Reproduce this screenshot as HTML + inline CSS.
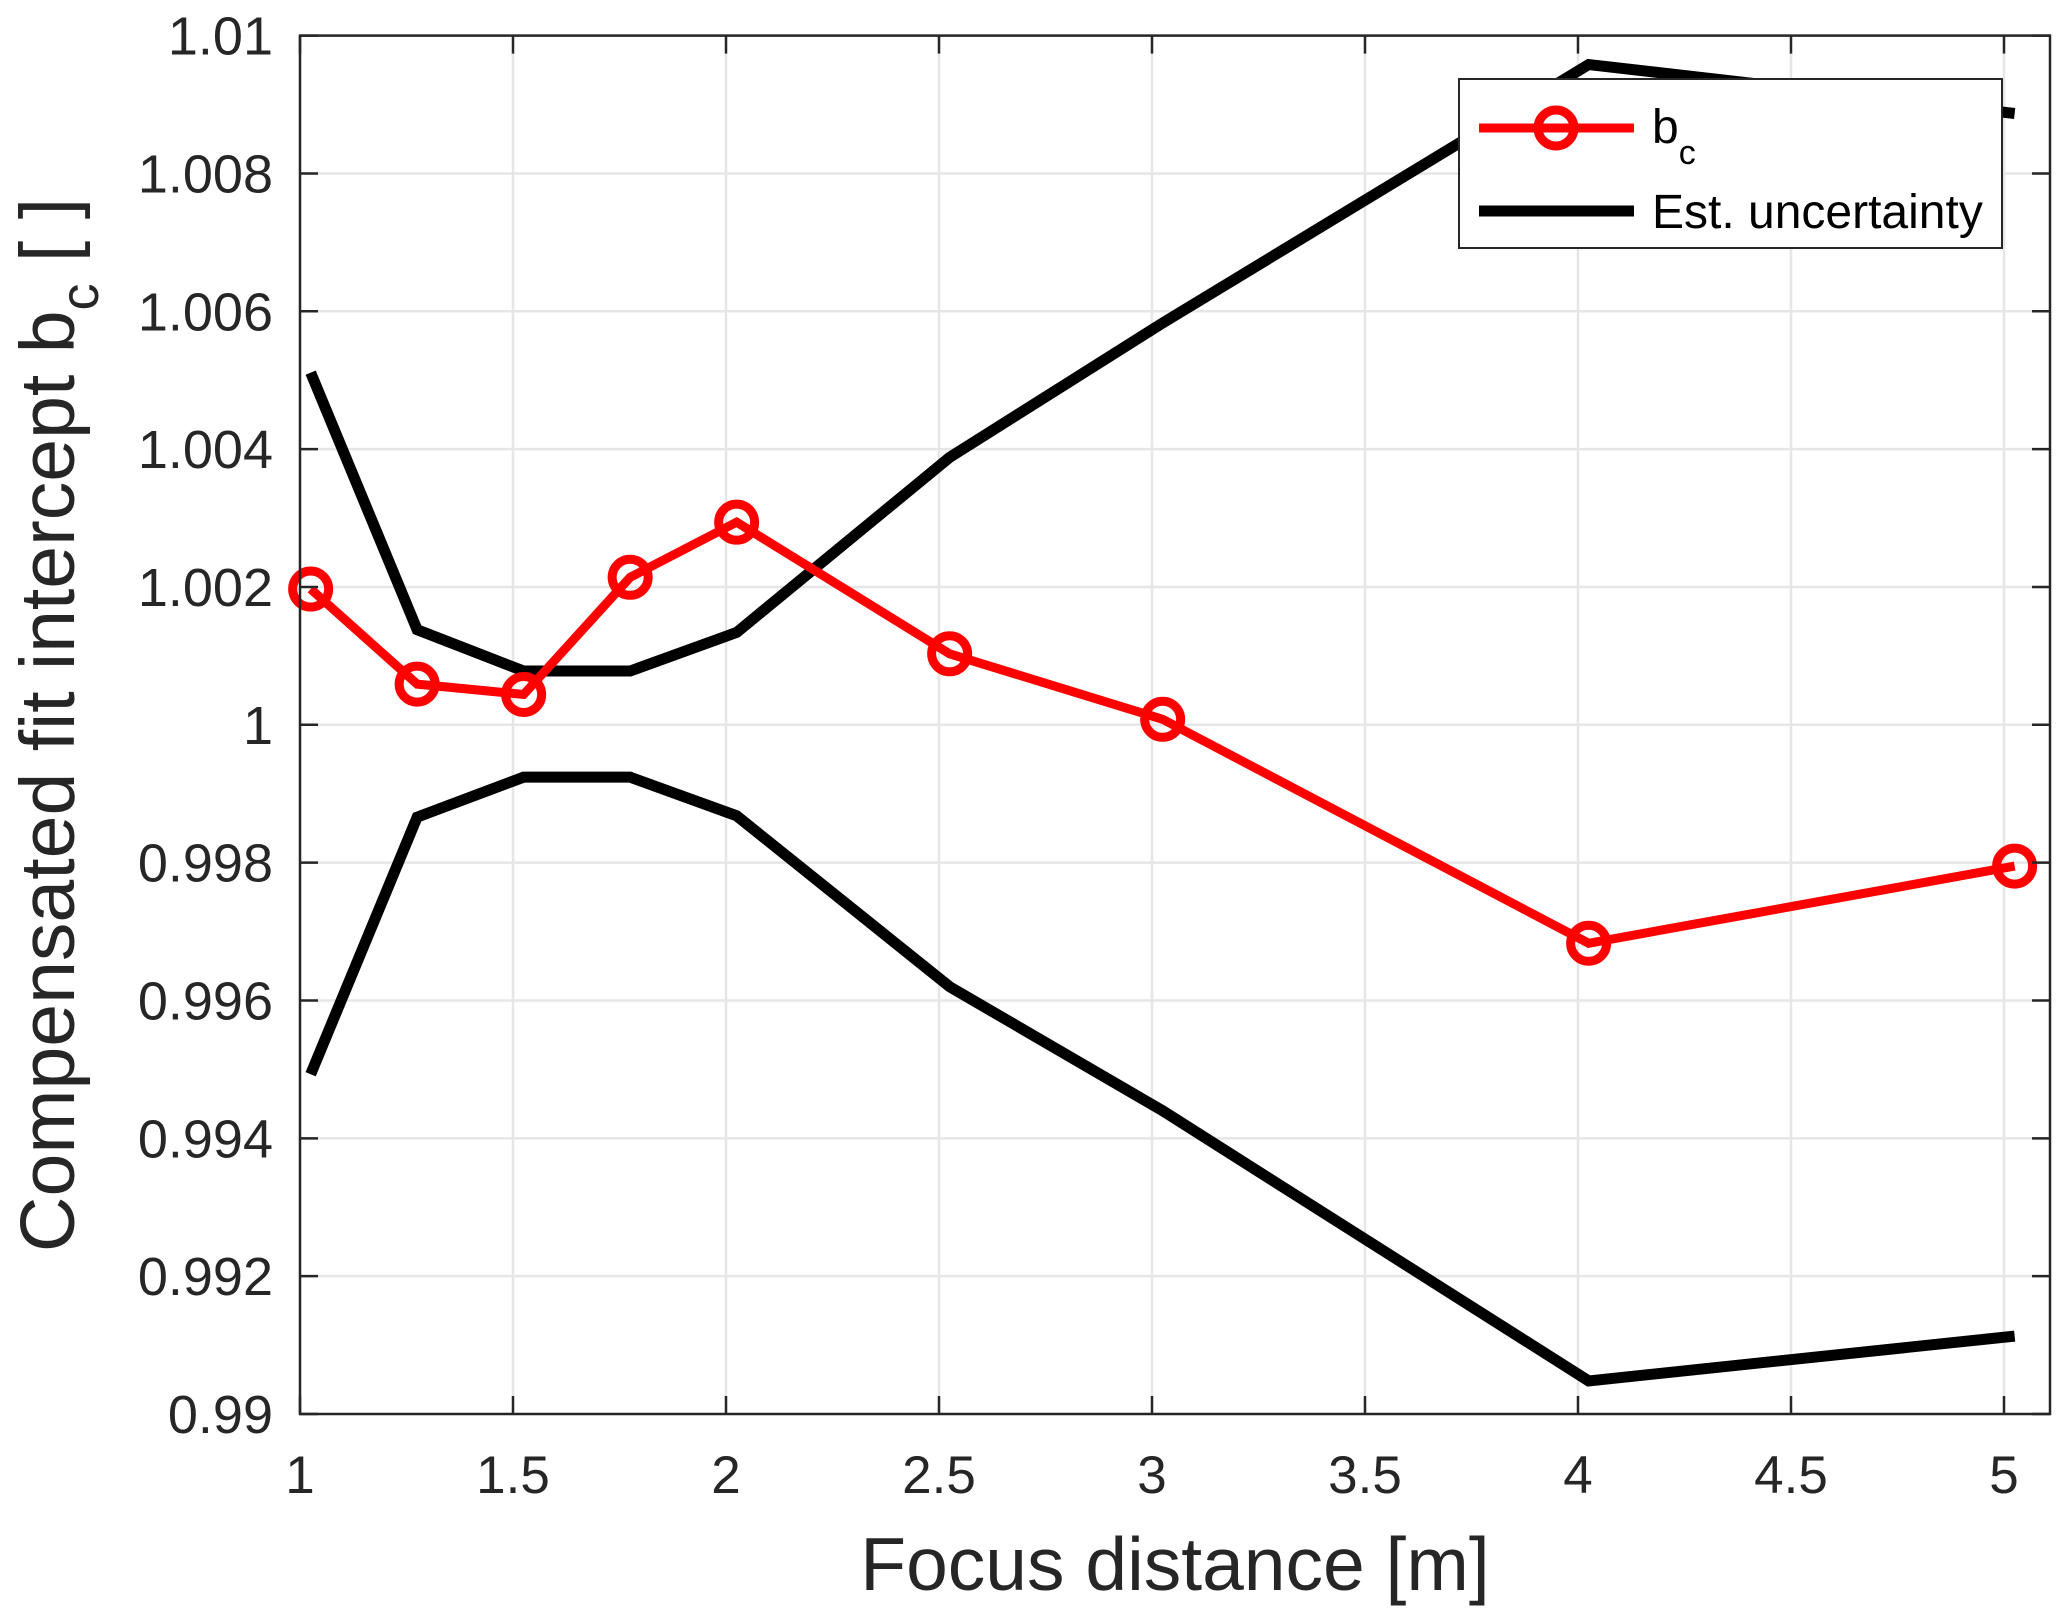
<!DOCTYPE html>
<html><head><meta charset="utf-8"><style>
html,body{margin:0;padding:0;background:#fff;}
svg{display:block;font-family:"Liberation Sans",Arial,sans-serif;}
</style></head><body>
<svg id="chart" width="2067" height="1621" viewBox="0 0 2067 1621" xmlns="http://www.w3.org/2000/svg">
<rect x="0" y="0" width="2067" height="1621" fill="#fff"/>
<g id="grid"></g>
<g id="series"></g>
<g id="axes"></g>
<text x="1175" y="1590" font-size="75" fill="#262626" text-anchor="middle">Focus distance [m]</text>
<text transform="translate(74,725) rotate(-90)" font-size="77" fill="#262626" text-anchor="middle">Compensated fit intercept b<tspan font-size="54" dy="24">c</tspan><tspan dy="-24">  [ ]</tspan></text>
<g>
<rect x="1459" y="79" width="543" height="169" fill="#fff" stroke="#262626" stroke-width="2"/>
<g>
<line x1="1479" y1="128" x2="1634" y2="128" stroke="#ff0000" stroke-width="9"/>
<circle cx="1556" cy="128" r="18" fill="none" stroke="#ff0000" stroke-width="9"/>
<text x="1652" y="143" font-size="48" fill="#000">b<tspan font-size="34" dy="21">c</tspan></text>
</g>
<g>
<line x1="1479" y1="211" x2="1634" y2="211" stroke="#000" stroke-width="11"/>
<text x="1652" y="228" font-size="48" fill="#000">Est. uncertainty</text>
</g>
</g>
</svg>
<script>
const xs = [1.025,1.275,1.525,1.775,2.025,2.525,3.025,4.025,5.025];
const bc = [1.00197,1.00059,1.00044,1.00214,1.00294,1.00103,1.00008,0.99683,0.99795];
const upper = [1.00511,1.00138,1.00078,1.00078,1.00134,1.00388,1.00583,1.00958,1.00887];
const lower = [0.99493,0.99866,0.99924,0.99924,0.99868,0.99620,0.99440,0.99048,0.99113];
const xTicks = [1,1.5,2,2.5,3,3.5,4,4.5,5];
const xTickLabels = ['1','1.5','2','2.5','3','3.5','4','4.5','5'];
const yTicks = [0.99,0.992,0.994,0.996,0.998,1,1.002,1.004,1.006,1.008,1.01];
const yTickLabels = ['0.99','0.992','0.994','0.996','0.998','1','1.002','1.004','1.006','1.008','1.01'];

const L=300,R=2050,T=35.6,B=1414;
const X0=1,X1=1+(R-L)/426,Y0=0.99,Y1=1.01;
function sx(v){return L+(v-X0)/(X1-X0)*(R-L);}
function sy(v){return B-(v-Y0)/(Y1-Y0)*(B-T);}
const NS='http://www.w3.org/2000/svg';
function mk(tag,attrs,parent){const e=document.createElementNS(NS,tag);for(const k in attrs)e.setAttribute(k,attrs[k]);parent.appendChild(e);return e;}
const grid=document.getElementById('grid'),axes=document.getElementById('axes'),series=document.getElementById('series');
xTicks.forEach((v,i)=>{
  const g=mk('line',{x1:sx(v),x2:sx(v),y1:T,y2:B,stroke:'#e6e6e6','stroke-width':2.5},grid);
  
  
  const t1=mk('line',{x1:sx(v),x2:sx(v),y1:B,y2:B-18,stroke:'#262626','stroke-width':2.5},axes);
  
  
  const t2=mk('line',{x1:sx(v),x2:sx(v),y1:T,y2:T+18,stroke:'#262626','stroke-width':2.5},axes);
  
  
  const tx=mk('text',{x:sx(v),y:1493,'font-size':53,fill:'#262626','text-anchor':'middle'},axes);
  tx.textContent=xTickLabels[i];
  
  
});
yTicks.forEach((v,i)=>{
  const g=mk('line',{x1:L,x2:R,y1:sy(v),y2:sy(v),stroke:'#e6e6e6','stroke-width':2.5},grid);
  
  
  const t1=mk('line',{x1:L,x2:L+18,y1:sy(v),y2:sy(v),stroke:'#262626','stroke-width':2.5},axes);
  
  
  const t2=mk('line',{x1:R,x2:R-18,y1:sy(v),y2:sy(v),stroke:'#262626','stroke-width':2.5},axes);
  
  
  const tx=mk('text',{x:273,y:sy(v)+19,'font-size':54,fill:'#262626','text-anchor':'end'},axes);
  tx.textContent=yTickLabels[i];
  
  
});
const frame=mk('rect',{x:L,y:T,width:R-L,height:B-T,fill:'none',stroke:'#262626','stroke-width':2.5},axes);


function pts(ys){return xs.map((x,i)=>sx(x)+','+sy(ys[i])).join(' ');}
const up=mk('polyline',{points:pts(upper),fill:'none',stroke:'#000','stroke-width':11,'stroke-linejoin':'miter'},series);


const lo=mk('polyline',{points:pts(lower),fill:'none',stroke:'#000','stroke-width':11,'stroke-linejoin':'miter'},series);


const bl=mk('polyline',{points:pts(bc),fill:'none',stroke:'#ff0000','stroke-width':9},series);


xs.forEach((x,i)=>{
  const c=mk('circle',{cx:sx(x),cy:sy(bc[i]),r:18,fill:'none',stroke:'#ff0000','stroke-width':9},series);
  
  
});
</script>
</body></html>
